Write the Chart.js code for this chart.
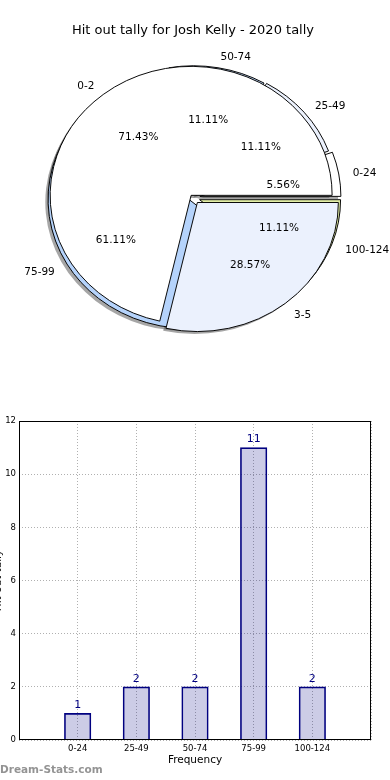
<!DOCTYPE html>
<html>
<head>
<meta charset="utf-8">
<script src="https://cdn.jsdelivr.net/npm/chart.js@4/dist/chart.umd.min.js"></script>
<style>
  html, body { margin: 0; padding: 0; background: #fff; width: 390px; height: 780px; overflow: hidden; position: relative; }
  canvas { position: absolute; }
</style>
</head>
<body>
<canvas id="pie" width="390" height="400" style="left:0;top:0;width:390px;height:400px"></canvas>
<canvas id="bar" width="400" height="380" style="left:-10px;top:400px;width:400px;height:380px"></canvas>
<script>
// ---------------- data ----------------
const chartTitle = 'Hit out tally for Josh Kelly - 2020 tally';
const categories = ['0-24', '25-49', '50-74', '75-99', '100-124'];
const values = [1, 2, 2, 11, 2];
const splitLabels = ['0-2', '3-5'];
const splitValues = [5, 2];
const yTicks = [0, 2, 4, 6, 8, 10, 12];
const xTitle = 'Frequency';
const yTitle = 'Hit out tally';
const watermark = 'Dream-Stats.com';

// ---------------- styles ----------------
const FONT = '"DejaVu Sans", "Liberation Sans", sans-serif';
Chart.defaults.font.family = FONT;
Chart.defaults.color = '#000';
const SY = 0.915;                        // reference pie axes are not square: vertical squash
const outerColors = ['#ffffff', '#ebf1fd', '#bfd8f8', '#b5d3fb', '#e2eea6'];
const innerColors = ['#ffffff', '#ebf1fd'];
const outerExplode = [7, 4, 3, 4.5, 7];  // px
const innerExplode = [3, 7];
const shadowOff = [-2.8, 2.8];
const textDY = 2;                        // text vertical nudge (matplotlib centers on ink)

const rev = a => a.slice().reverse();    // matplotlib draws counter-clockwise from 3 o'clock

// ---------------- pie ----------------
const piePlugin = {
  id: 'pieDraw',
  beforeDatasetsDraw(chart) {
    const ctx = chart.ctx;
    const R = chart.getDatasetMeta(0).controller.outerRadius;
    const metas = chart.data.datasets.map((d, i) => chart.getDatasetMeta(i));
    metas.forEach(m => m.data.forEach(a => { a.innerRadius = 0; a.outerRadius = R; }));
    const a0 = metas[0].data[0];
    const cx = a0.x, cy = a0.y;
    ctx.save();
    ctx.translate(cx, cy); ctx.scale(1, SY); ctx.translate(-cx, -cy);
    // shadows (below all wedges)
    ctx.fillStyle = 'rgba(77,77,77,0.5)';
    metas.forEach((m, di) => {
      const ex = chart.data.datasets[di].explode;
      m.data.forEach((a, i) => {
        const mid = (a.startAngle + a.endAngle) / 2;
        const px = a.x + Math.cos(mid) * ex[i] + shadowOff[0];
        const py = a.y + Math.sin(mid) * ex[i] + shadowOff[1];
        ctx.beginPath(); ctx.moveTo(px, py); ctx.arc(px, py, R, a.startAngle, a.endAngle); ctx.closePath(); ctx.fill();
      });
    });
    // wedges: frequency pie first, split pie on top
    metas.forEach((m, di) => {
      const ex = chart.data.datasets[di].explode;
      m.data.forEach((a, i) => {
        const mid = (a.startAngle + a.endAngle) / 2;
        ctx.save();
        ctx.translate(Math.cos(mid) * ex[i], Math.sin(mid) * ex[i]);
        a.draw(ctx);
        ctx.restore();
      });
    });
    ctx.restore();
    return false;
  },
  afterDraw(chart) {
    const ctx = chart.ctx;
    ctx.save();
    ctx.font = '10.5px ' + FONT;
    ctx.fillStyle = '#000';
    ctx.textBaseline = 'middle';
    chart.data.datasets.forEach((ds, di) => {
      const meta = chart.getDatasetMeta(di);
      const total = ds.data.reduce((s, v) => s + v, 0);
      meta.data.forEach((a, i) => {
        const mid = (a.startAngle + a.endAngle) / 2, c = Math.cos(mid), s = Math.sin(mid);
        const R = a.outerRadius, ex = ds.explode[i];
        const wx = a.x + c * ex, wy = a.y + s * ex * SY + textDY;
        ctx.textAlign = c > 0 ? 'left' : 'right';
        ctx.fillText(ds.sliceLabels[i], wx + c * 1.1 * R, wy + s * 1.1 * R * SY);
        ctx.textAlign = 'center';
        ctx.fillText((ds.data[i] / total * 100).toFixed(2) + '%', wx + c * 0.6 * R, wy + s * 0.6 * R * SY);
      });
    });
    ctx.restore();
  }
};

new Chart(document.getElementById('pie'), {
  type: 'pie',
  data: {
    labels: rev(categories),
    datasets: [
      { data: rev(values), backgroundColor: rev(outerColors), sliceLabels: rev(categories), explode: rev(outerExplode) },
      { data: rev(splitValues), backgroundColor: rev(innerColors), sliceLabels: rev(splitLabels), explode: rev(innerExplode) }
    ]
  },
  options: {
    responsive: false, animation: false, events: [],
    rotation: 90, radius: 141,
    elements: { arc: { borderColor: '#000', borderWidth: 1, borderJoinStyle: 'miter' } },
    layout: { padding: { top: 0, right: 4, bottom: 43.6, left: 0 } },
    plugins: {
      legend: { display: false }, tooltip: { enabled: false },
      title: { display: true, text: chartTitle, color: '#000', font: { size: 13, weight: 'normal', family: FONT }, padding: { top: 23, bottom: 0 } }
    }
  },
  plugins: [piePlugin]
});

// ---------------- bar ----------------
const barPlugin = {
  id: 'barExtras',
  afterDatasetsDraw(chart) {
    const ctx = chart.ctx;
    ctx.save();
    ctx.font = '11px ' + FONT;
    ctx.fillStyle = '#000080';
    ctx.textAlign = 'center'; ctx.textBaseline = 'middle';
    const ds = chart.data.datasets[0];
    chart.getDatasetMeta(0).data.forEach((b, i) => {
      const v = ds.data[i];
      if (v === null || v === undefined) return;
      ctx.fillText(String(v), b.x, b.y - 8);
    });
    ctx.restore();
  },
  afterDraw(chart) {
    const ctx = chart.ctx, a = chart.chartArea;
    ctx.save();
    ctx.strokeStyle = '#000'; ctx.lineWidth = 1;
    ctx.strokeRect(Math.round(a.left) + 0.5, Math.round(a.top) + 0.5, Math.round(a.right - a.left) - 1, Math.round(a.bottom - a.top) - 1);
    ctx.font = 'bold 10.5px ' + FONT;
    ctx.fillStyle = 'rgba(120,120,120,0.8)';
    ctx.textAlign = 'left'; ctx.textBaseline = 'middle';
    ctx.fillText(watermark, 10, 370);
    ctx.restore();
  }
};

new Chart(document.getElementById('bar'), {
  type: 'bar',
  data: {
    labels: ['', ...categories, ''],
    datasets: [{
      data: [null, ...values, null],
      backgroundColor: 'rgba(0,0,128,0.2)',
      borderColor: '#000080',
      borderWidth: 1,
      barThickness: 26.5
    }]
  },
  options: {
    responsive: false, animation: false, events: [],
    layout: { padding: { top: 21, right: 19, bottom: 0, left: 0 } },
    plugins: { legend: { display: false }, tooltip: { enabled: false } },
    scales: {
      x: {
        offset: false,
        grid: { offset: false, drawTicks: false, color: '#b0b0b0', lineWidth: 1 },
        border: { display: false, dash: [1, 2] },
        ticks: { font: { size: 8.5 }, color: '#000', padding: 4, autoSkip: false, maxRotation: 0 },
        title: { display: true, text: xTitle, color: '#000', font: { size: 10.5 }, padding: { top: 13, bottom: 13 } },
        afterFit(s) { s.height = 40; }
      },
      y: {
        min: 0, max: 12,
        afterBuildTicks(s) { s.ticks = yTicks.map(v => ({ value: v })); },
        grid: { drawTicks: false, color: '#b0b0b0', lineWidth: 1 },
        border: { display: false, dash: [1, 2] },
        ticks: { font: { size: 8.5 }, color: '#000', padding: 3 },
        title: { display: true, text: yTitle, color: '#000', font: { size: 10.5 }, padding: { top: 1.7, bottom: 0 } },
        afterFit(s) { s.width = 29; }
      }
    }
  },
  plugins: [barPlugin]
});
</script>
</body>
</html>
